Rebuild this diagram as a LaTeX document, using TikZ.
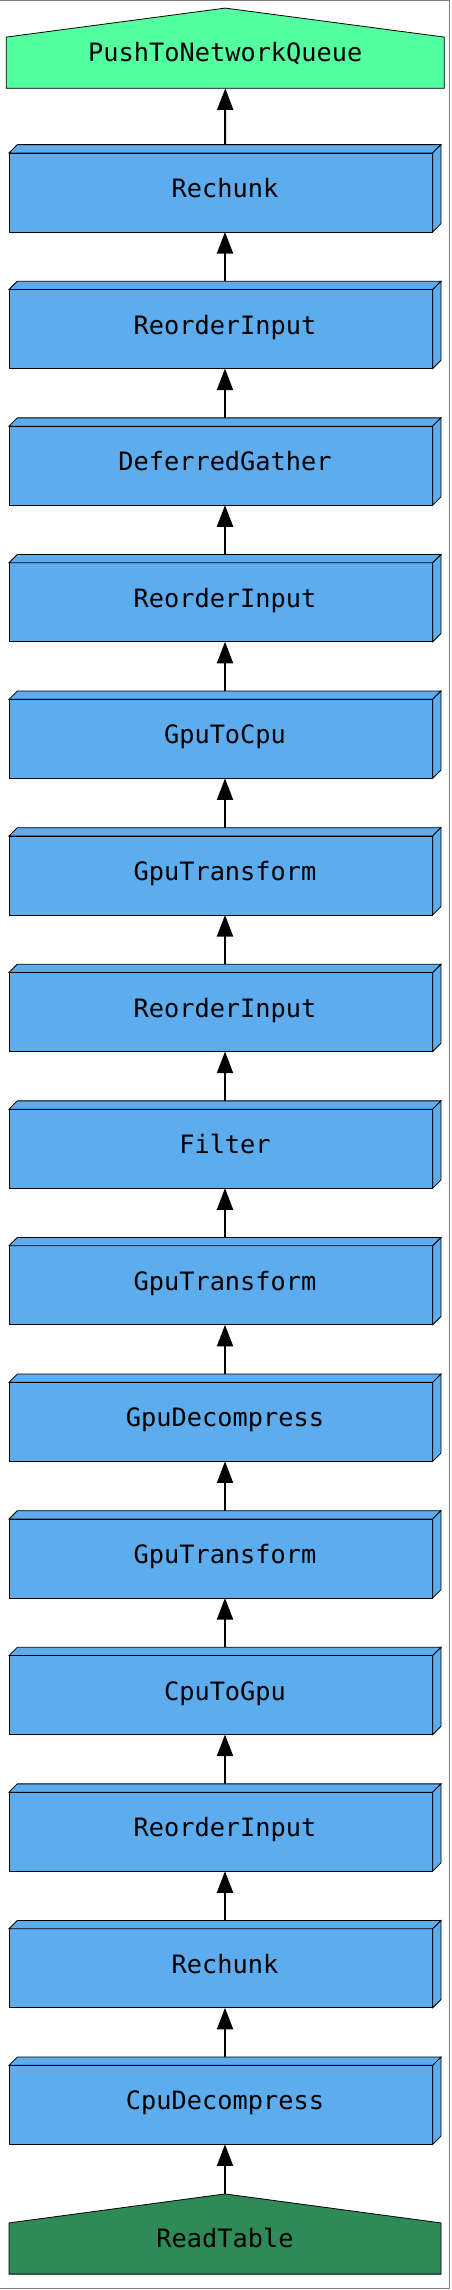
\documentclass[tikz,border=0pt]{standalone}
\usepackage{fontspec}
\setmonofont{DejaVu Sans Mono}
\usetikzlibrary{calc, arrows.meta, backgrounds}
\definecolor{pushgreen}{HTML}{54FF9F}
\definecolor{readgreen}{HTML}{2E8B57}
\definecolor{opblue}{HTML}{5CACEE}

\begin{document}
\begin{tikzpicture}[x=0.5pt, y=-0.5pt, line width=1pt, >={Triangle[length=10.8pt, width=8pt]},
    lbl/.style={font=\fontsize{12.65}{14}\selectfont\ttfamily, inner sep=0pt},
    op/.style={lbl, minimum width=215pt, minimum height=42.65pt, text height=9.2pt, text depth=0pt},
    house/.style={lbl, minimum height=39.1pt, text height=13.7pt, text depth=0pt}]
\useasboundingbox (0,0) rectangle (451,2290);

% sink and source
\node[house, minimum width=218pt] (push) at (225.3,48.2) {PushToNetworkQueue};
\node[house, minimum width=215pt] (read) at (225,2234) {ReadTable};

% operators, top to bottom
\foreach \name [count=\i from 0] in {Rechunk, ReorderInput, DeferredGather, ReorderInput, GpuToCpu,
    GpuTransform, ReorderInput, Filter, GpuTransform, GpuDecompress, GpuTransform, CpuToGpu,
    ReorderInput, Rechunk, CpuDecompress}
    \node[op] (b\i) at (225,{188.3+136.6*\i}) {\name};

\begin{scope}[on background layer]
    \draw[gray, line width=0.5pt] (-2,1) -- (449,1) -- (449,2288.5) -- (-2,2288.5);
    \foreach \i in {0,...,14} {
        \filldraw[fill=opblue] (b\i.south west) rectangle ($(b\i.north east)+(-8.3,8.3)$);
        \filldraw[fill=opblue] ($(b\i.north west)+(0,8.3)$) -- ($(b\i.north west)+(8.3,0)$)
            -- (b\i.north east) -- ($(b\i.north east)+(-8.3,8.3)$) -- cycle;
        \filldraw[fill=opblue] (b\i.north east) -- ($(b\i.south east)+(0,-8.3)$)
            -- ($(b\i.south east)+(-8.3,0)$) -- ($(b\i.north east)+(-8.3,8.3)$) -- cycle;
    }
    \filldraw[fill=pushgreen] (push.south west) -- ($(push.north west)+(0,29)$) -- (push.north)
        -- ($(push.north east)+(0,29)$) -- (push.south east) -- cycle;
    \filldraw[fill=readgreen] (read.south west) -- ($(read.north west)+(0,29)$) -- (read.north)
        -- ($(read.north east)+(0,29)$) -- (read.south east) -- cycle;
\end{scope}

% data flow
\draw[->] (b0.north) -- (push.south);
\foreach \i [evaluate=\i as \j using int(\i+1)] in {0,...,13}
    \draw[->] (b\j.north) -- (b\i.south);
\draw[->] (read.north) -- (b14.south);
\end{tikzpicture}
\end{document}
